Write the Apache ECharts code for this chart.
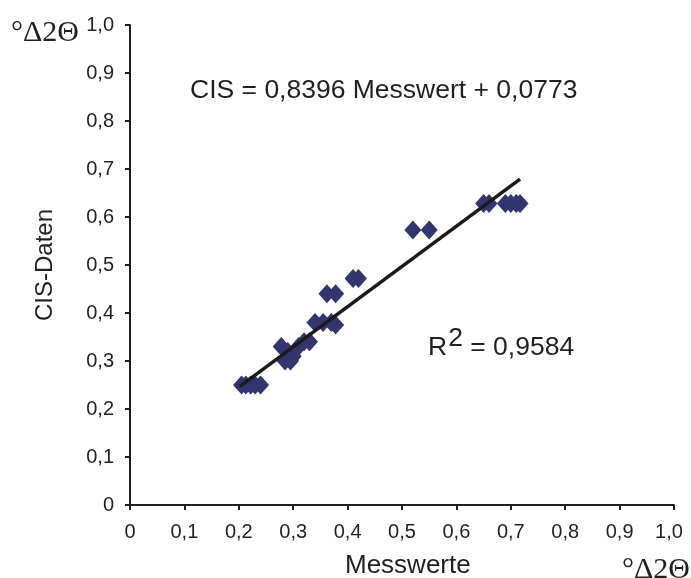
<!DOCTYPE html>
<html>
<head>
<meta charset="utf-8">
<script src="https://cdn.jsdelivr.net/npm/echarts@6/dist/echarts.min.js"></script>
<style>
html,body{margin:0;padding:0;background:#fff;}
#chart{width:691px;height:578px;}
</style>
</head>
<body>
<div id="chart"></div>
<script>
// Data
var messwerte = [0.205,0.213,0.222,0.230,0.240,
                 0.278,0.285,0.295,0.290,0.300,0.310,0.320,0.330,
                 0.340,0.355,0.370,0.378,
                 0.362,0.378,
                 0.410,0.420,
                 0.520,0.550,
                 0.650,0.660,0.690,0.700,0.710,0.717];
var cisDaten  = [0.250,0.250,0.250,0.250,0.250,
                 0.330,0.300,0.300,0.320,0.310,0.330,0.340,0.340,
                 0.380,0.380,0.380,0.375,
                 0.440,0.440,
                 0.472,0.472,
                 0.573,0.573,
                 0.628,0.628,0.628,0.628,0.628,0.628];
var trendX = [0.202, 0.717];
var trendY = [0.247, 0.679];
var tickValues = [0,0.1,0.2,0.3,0.4,0.5,0.6,0.7,0.8,0.9,1.0];
var tickLabels = ['0','0,1','0,2','0,3','0,4','0,5','0,6','0,7','0,8','0,9','1,0'];
var equationText = 'CIS = 0,8396 Messwert + 0,0773';
var r2Value = '0,9584';
var xTitle = 'Messwerte';
var yTitle = 'CIS-Daten';
var unitText = '°Δ2Θ';

function fmt(v){
  for (var i=0;i<tickValues.length;i++){ if (Math.abs(v-tickValues[i])<1e-6) return tickLabels[i]; }
  return '';
}
function fmtX(v){
  var s = fmt(v);
  return Math.abs(v-1)<1e-6 ? '{last|'+s+'}' : s;
}
var points = messwerte.map(function(x,i){return [x, cisDaten[i]];});
var trend = trendX.map(function(x,i){return [x, trendY[i]];});

var FONT = "'Liberation Sans', Arial, sans-serif";
var SERIF = "'Liberation Serif', 'Times New Roman', serif";
var axisColor = '#231f20';

var chart = echarts.init(document.getElementById('chart'), null, {renderer:'canvas'});
chart.setOption({
  animation:false,
  backgroundColor:'#ffffff',
  grid:{left:130, right:17, top:25, bottom:73, containLabel:false},
  xAxis:{
    type:'value', min:0, max:1, interval:0.1,
    axisLine:{show:true, lineStyle:{color:axisColor, width:2}},
    axisTick:{show:true, inside:false, length:5, lineStyle:{color:axisColor, width:2}},
    axisLabel:{formatter:fmtX, fontFamily:FONT, fontSize:20, color:'#231f20', margin:17,
      rich:{last:{fontFamily:FONT, fontSize:20, color:'#231f20', padding:[0,10,0,0]}}},
    splitLine:{show:false}
  },
  yAxis:{
    type:'value', min:0, max:1, interval:0.1,
    name:yTitle, nameLocation:'middle', nameGap:73,
    nameTextStyle:{fontFamily:FONT, fontSize:24, color:'#231f20'},
    axisLine:{show:true, lineStyle:{color:axisColor, width:2}},
    axisTick:{show:true, inside:false, length:5, lineStyle:{color:axisColor, width:2}},
    axisLabel:{formatter:fmt, fontFamily:FONT, fontSize:20, color:'#231f20', margin:16},
    splitLine:{show:false}
  },
  series:[
    {
      type:'scatter', data:points, symbol:'diamond', symbolSize:[17,19],
      itemStyle:{color:'#33356f', opacity:1}, z:2
    },
    {
      type:'line', data:trend, symbol:'none',
      lineStyle:{color:'#1a1a1a', width:3.5}, z:3
    }
  ],
  graphic:[
    {type:'text', left:190, top:77, style:{text:equationText, font:'26.5px '+FONT, fill:'#231f20'}},
    {type:'text', left:428, top:325, style:{
      text:'{r|R}{s|2}{r| = '+r2Value+'}',
      rich:{
        r:{font:'26.5px '+FONT, fill:'#231f20', verticalAlign:'bottom', lineHeight:36},
        s:{font:'26.5px '+FONT, fill:'#231f20', verticalAlign:'top', lineHeight:36, padding:[0,0,16,1]}
      }
    }},
    {type:'text', left:345, top:553, style:{text:xTitle, font:'26px '+FONT, fill:'#231f20'}},
    {type:'text', left:11, top:18, style:{text:unitText, font:'30px '+SERIF, fill:'#231f20'}},
    {type:'text', right:1, top:555, style:{text:unitText, font:'30px '+SERIF, fill:'#231f20'}}
  ]
});
</script>
</body>
</html>
